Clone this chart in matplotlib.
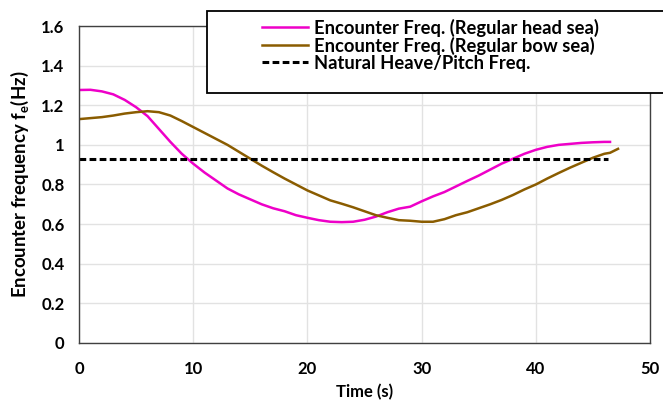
import matplotlib
matplotlib.use("Agg")
import matplotlib.pyplot as plt
from matplotlib.patches import Rectangle

plt.rcParams["font.family"] = ["Lato", "DejaVu Sans"]
plt.rcParams["font.weight"] = "bold"
plt.rcParams["mathtext.fontset"] = "custom"
plt.rcParams["mathtext.rm"] = "Lato:bold"
plt.rcParams["mathtext.default"] = "rm"

# head sea encounter frequency (pink)
t_head = [0, 1, 2, 3, 4, 5, 6, 7, 8, 9, 10, 11, 12, 13, 14, 15, 16, 17, 18, 19,
          20, 21, 22, 23, 24, 25, 26, 27, 28, 29, 30, 31, 32, 33, 34, 35, 36, 37,
          38, 39, 40, 41, 42, 43, 44, 45, 46, 46.5]
f_head = [1.277, 1.278, 1.27, 1.255, 1.227, 1.19, 1.145, 1.08, 1.015, 0.955,
          0.905, 0.86, 0.82, 0.78, 0.75, 0.725, 0.70, 0.68, 0.665, 0.645,
          0.632, 0.62, 0.612, 0.61, 0.612, 0.622, 0.638, 0.66, 0.678, 0.688,
          0.715, 0.74, 0.762, 0.79, 0.818, 0.845, 0.875, 0.905, 0.93, 0.955,
          0.975, 0.99, 1.0, 1.005, 1.01, 1.013, 1.015, 1.015]

# bow sea encounter frequency (brown)
t_bow = [0, 1, 2, 3, 4, 5, 6, 7, 8, 9, 10, 11, 12, 13, 14, 15, 16, 17, 18, 19,
         20, 21, 22, 23, 24, 25, 26, 27, 28, 29, 30, 31, 32, 33, 34, 35, 36, 37,
         38, 39, 40, 41, 42, 43, 44, 45, 46, 46.5, 47.2]
f_bow = [1.13, 1.135, 1.14, 1.148, 1.158, 1.165, 1.17, 1.165, 1.148, 1.12,
         1.09, 1.06, 1.03, 1.0, 0.965, 0.93, 0.895, 0.862, 0.83, 0.80,
         0.77, 0.745, 0.72, 0.703, 0.685, 0.665, 0.645, 0.632, 0.62, 0.617,
         0.612, 0.612, 0.625, 0.645, 0.66, 0.68, 0.70, 0.722, 0.747, 0.775,
         0.80, 0.83, 0.858, 0.885, 0.91, 0.935, 0.955, 0.96, 0.98]

# natural heave/pitch frequency
t_nat = [0, 46.3]
f_nat = [0.93, 0.93]

fig = plt.figure(figsize=(6.63, 4.05), dpi=100)
ax = fig.add_axes([0.1192, 0.1531, 0.8612, 0.7827])

ax.plot(t_head, f_head, color="#ee00c8", lw=1.8,
        label="Encounter Freq. (Regular head sea)")
ax.plot(t_bow, f_bow, color="#8a5c00", lw=1.8,
        label="Encounter Freq. (Regular bow sea)")
ax.plot(t_nat, f_nat, color="black", lw=2.2, dashes=(2.2, 1.1),
        label="Natural Heave/Pitch Freq.")

ax.set_xlim(0, 50)
ax.set_ylim(0, 1.6)
ax.set_xticks([0, 10, 20, 30, 40, 50])
ax.set_yticks([0, 0.2, 0.4, 0.6, 0.8, 1.0, 1.2, 1.4, 1.6])
ax.set_yticklabels(["0", "0.2", "0.4", "0.6", "0.8", "1", "1.2", "1.4", "1.6"])
ax.tick_params(length=0, labelsize=12)
ax.tick_params(axis="x", pad=13)
ax.tick_params(axis="y", pad=10.5)
ax.grid(True, color="#e2e2e2", lw=1)
ax.set_axisbelow(True)
for s in ax.spines.values():
    s.set_color("#404040")
    s.set_linewidth(1.0)

ax.set_xlabel("Time (s)", fontsize=12, fontweight="bold", labelpad=5)
ax.set_ylabel("Encounter frequency f$_{e}$(Hz)", fontsize=13.4,
              fontweight="bold", labelpad=7)

# legend frame runs past the right edge of the figure
fig.patches.append(Rectangle((207 / 663, 1 - 93 / 405), 470 / 663, 82 / 405,
                             transform=fig.transFigure, fill=True,
                             facecolor="white", edgecolor="black", lw=1.3,
                             zorder=5))
leg = fig.legend(loc="upper left", bbox_to_anchor=(258 / 663, 1 - 15 / 405),
                 frameon=False, prop={"weight": "bold", "size": 13.2},
                 handlelength=2.55, handletextpad=0.3, labelspacing=0.0,
                 borderaxespad=0, borderpad=0.2)
leg.set_zorder(6)

fig.savefig("out.png", dpi=100)
